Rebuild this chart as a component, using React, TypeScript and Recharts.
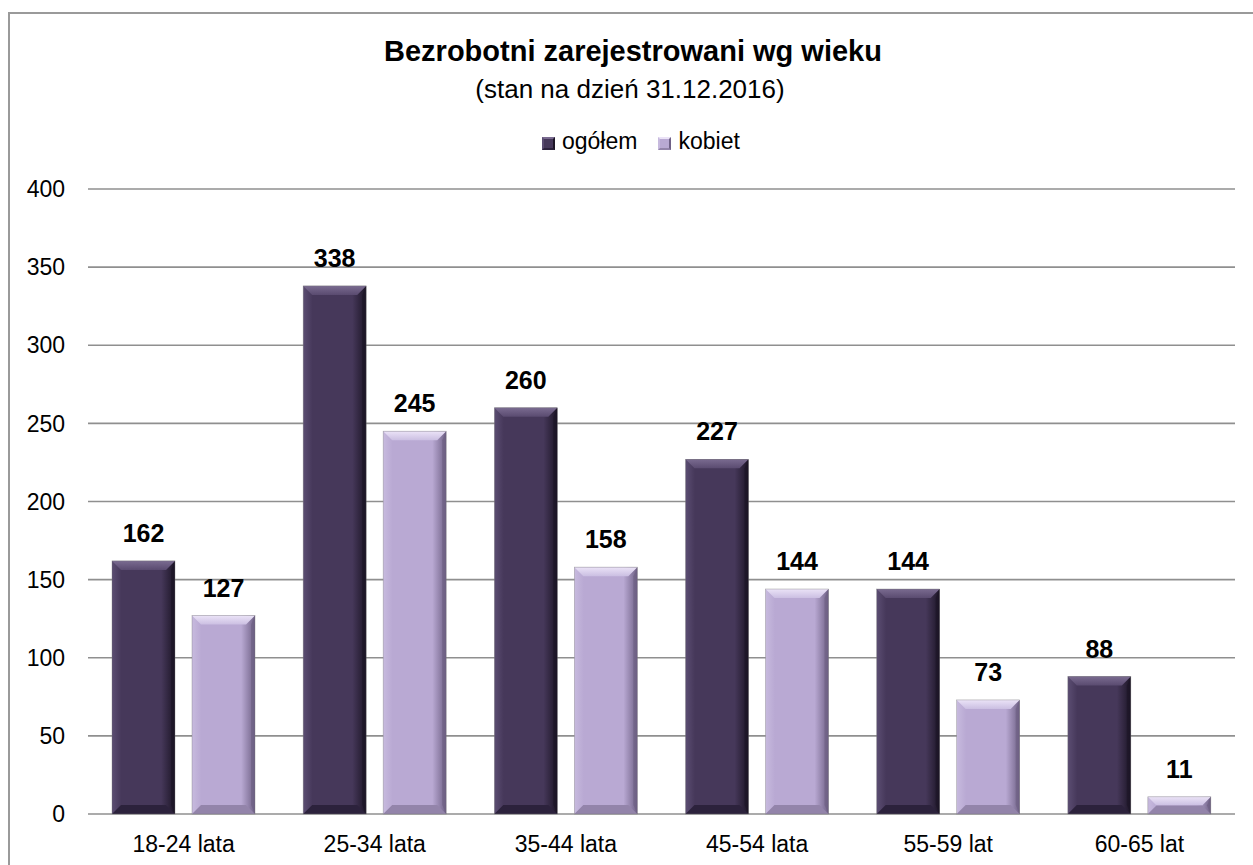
import React from "react";
import {
  BarChart,
  Bar,
  XAxis,
  YAxis,
  CartesianGrid,
  LabelList,
} from "recharts";

const categories = [
  "18-24 lata",
  "25-34 lata",
  "35-44 lata",
  "45-54 lata",
  "55-59 lat",
  "60-65 lat",
];
const ogolem = [162, 338, 260, 227, 144, 88];
const kobiet = [127, 245, 158, 144, 73, 11];
const yTicks = [0, 50, 100, 150, 200, 250, 300, 350, 400];

const data = categories.map((name, i) => ({
  name,
  ogolem: ogolem[i],
  kobiet: kobiet[i],
}));

const FONT = "Arial, 'Liberation Sans', sans-serif";

type Palette = {
  id: string;
  base: string;
  edgeL: string;
  edgeR: string;
  top: string;
  topIn: string;
  right: string;
  bottom: string;
};
const darkPal: Palette = {
  id: "dk",
  base: "#46385a",
  edgeL: "#5b4d72",
  edgeR: "#1c1526",
  top: "#7a6b90",
  topIn: "#5a4b70",
  right: "#1a1424",
  bottom: "#2c223c",
};
const lightPal: Palette = {
  id: "lt",
  base: "#b9a9d3",
  edgeL: "#c7bade",
  edgeR: "#6f6186",
  top: "#ebe3f7",
  topIn: "#cbbfe2",
  right: "#6b5d80",
  bottom: "#9384aa",
};

const bevelShape = (pal: Palette) => (props: any) => {
  const { x, y, width, height, index } = props;
  if (!height || height <= 0) return <g />;
  const b = Math.min(9, height / 2, width / 2);
  const x2 = x + width;
  const y2 = y + height;
  const gid = `g-${pal.id}-${index}`;
  const tid = `t-${pal.id}-${index}`;
  return (
    <g>
      <defs>
        <linearGradient id={gid} x1="0" y1="0" x2="1" y2="0">
          <stop offset="0" stopColor={pal.edgeL} />
          <stop offset="0.15" stopColor={pal.base} />
          <stop offset="0.78" stopColor={pal.base} />
          <stop offset="1" stopColor={pal.edgeR} />
        </linearGradient>
        <linearGradient id={tid} x1="0" y1="0" x2="0" y2="1">
          <stop offset="0" stopColor={pal.top} />
          <stop offset="1" stopColor={pal.topIn} />
        </linearGradient>
      </defs>
      <rect x={x} y={y} width={width} height={height} fill={`url(#${gid})`} />
      <polygon
        points={`${x},${y} ${x2},${y} ${x2 - b},${y + b} ${x + b},${y + b}`}
        fill={`url(#${tid})`}
      />
      <polygon
        points={`${x2},${y} ${x2},${y2} ${x2 - 4},${y2 - b} ${x2 - 4},${y + b}`}
        fill={pal.right}
        opacity={0.6}
      />
      <polygon
        points={`${x},${y2} ${x + b},${y2 - b} ${x2 - b},${y2 - b} ${x2},${y2}`}
        fill={pal.bottom}
      />
      <rect x={x} y={y} width={width} height={height} fill="none" stroke="#7a7a7a" strokeWidth={0.6} strokeOpacity={0.6} />
    </g>
  );
};

const legendItems = [
  { label: "ogółem", pal: darkPal },
  { label: "kobiet", pal: lightPal },
];

export default function App() {
  return (
    <div
      style={{
        position: "absolute",
        left: 0,
        top: 0,
        width: 1253,
        height: 865,
        background: "#fff",
        overflow: "hidden",
      }}
    >
      <div
        style={{
          position: "absolute",
          left: 8,
          top: 12,
          width: 1260,
          height: 900,
          borderLeft: "2px solid #9a9a9a",
          borderTop: "2px solid #9a9a9a",
        }}
      />
      <div
        style={{
          position: "absolute",
          left: 0,
          width: 1266,
          top: 37,
          textAlign: "center",
          fontFamily: FONT,
          fontWeight: "bold",
          fontSize: 29,
          lineHeight: 1,
          whiteSpace: "nowrap",
        }}
      >
        Bezrobotni zarejestrowani wg wieku
      </div>
      <div
        style={{
          position: "absolute",
          left: 0,
          width: 1260,
          top: 76,
          textAlign: "center",
          fontFamily: FONT,
          fontSize: 26,
          lineHeight: 1,
          whiteSpace: "nowrap",
        }}
      >
        (stan na dzień 31.12.2016)
      </div>
      <div
        style={{
          position: "absolute",
          left: 542,
          top: 130,
          display: "flex",
          alignItems: "center",
          fontFamily: FONT,
          fontSize: 23,
          lineHeight: 1,
          whiteSpace: "nowrap",
        }}
      >
        {legendItems.map((it, i) => (
          <React.Fragment key={it.label}>
            <span
              style={{
                display: "inline-block",
                width: 13,
                height: 13,
                boxSizing: "border-box",
                background: it.pal.base,
                border: `2px solid ${it.pal.edgeL}`,
                borderRightColor: it.pal.edgeR,
                borderBottomColor: it.pal.bottom,
                borderTopColor: it.pal.top,
                marginRight: 7,
                marginTop: 3,
              }}
            />
            <span style={{ marginRight: i === 0 ? 21 : 0 }}>{it.label}</span>
          </React.Fragment>
        ))}
      </div>
      <BarChart
        width={1253}
        height={865}
        data={data}
        margin={{ top: 189, right: 18, bottom: 0, left: 0 }}
        barSize={63}
        barGap={17}
      >
        <CartesianGrid vertical={false} stroke="#8f8f8f" strokeWidth={1.6} />
        <XAxis
          dataKey="name"
          axisLine={false}
          tickLine={false}
          tickSize={0}
          tickMargin={22}
          height={51}
          tick={{ fill: "#000", fontSize: 23, fontFamily: FONT }}
        />
        <YAxis
          domain={[0, 400]}
          ticks={yTicks}
          axisLine={false}
          tickLine={false}
          tickSize={0}
          tickMargin={23}
          width={88}
          tick={{ fill: "#000", fontSize: 23, fontFamily: FONT }}
        />
        <Bar dataKey="ogolem" name="ogółem" isAnimationActive={false} shape={bevelShape(darkPal)}>
          <LabelList
            dataKey="ogolem"
            position="top"
            offset={19}
            style={{ fill: "#000", fontSize: 25, fontWeight: "bold", fontFamily: FONT }}
          />
        </Bar>
        <Bar dataKey="kobiet" name="kobiet" isAnimationActive={false} shape={bevelShape(lightPal)}>
          <LabelList
            dataKey="kobiet"
            position="top"
            offset={19}
            style={{ fill: "#000", fontSize: 25, fontWeight: "bold", fontFamily: FONT }}
          />
        </Bar>
      </BarChart>
    </div>
  );
}
